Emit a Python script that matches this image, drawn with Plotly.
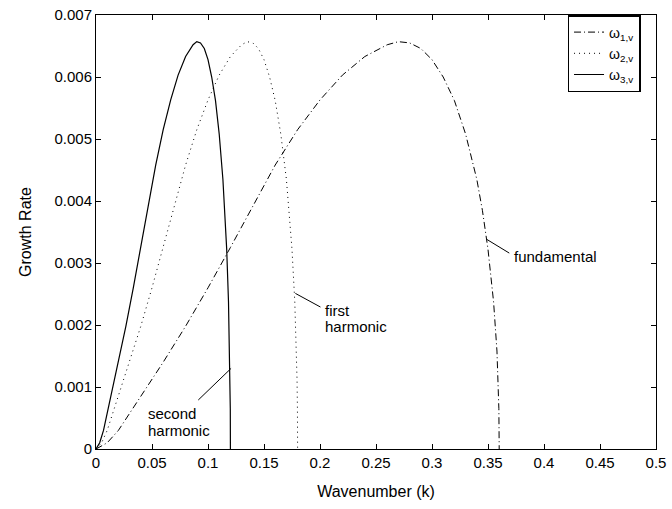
import plotly.graph_objects as go

# ---- data ----
growth_rate = [0, 0.00010, 0.00030, 0.00085, 0.00140, 0.00198, 0.00260, 0.00325, 0.00392,
               0.00458, 0.00515, 0.00563, 0.00603, 0.00633, 0.00652, 0.00657, 0.00655,
               0.00646, 0.00628, 0.00600, 0.00562, 0.00508, 0.00435, 0.00385, 0.00322,
               0.00237, 0.00158, 0.00112, 0.00065, 0.0]

k_fund = [0, 0.01, 0.02, 0.04, 0.06, 0.08, 0.10, 0.12, 0.14, 0.16, 0.18, 0.20, 0.22, 0.24,
          0.26, 0.27, 0.28, 0.29, 0.30, 0.31, 0.32, 0.33, 0.34, 0.345, 0.35, 0.355, 0.358,
          0.359, 0.3597, 0.36]
k_first = [0, 0.005, 0.01, 0.02, 0.03, 0.04, 0.05, 0.06, 0.07, 0.08, 0.09, 0.10, 0.11, 0.12,
           0.13, 0.135, 0.14, 0.145, 0.15, 0.155, 0.16, 0.165, 0.17, 0.1725, 0.175, 0.1775,
           0.179, 0.1795, 0.17985, 0.18]
k_second = [0, 0.0033, 0.0067, 0.0133, 0.02, 0.0267, 0.0333, 0.04, 0.0467, 0.0533, 0.06,
            0.0667, 0.0733, 0.08, 0.0867, 0.09, 0.0933, 0.0967, 0.10, 0.1033, 0.1067, 0.11,
            0.1133, 0.115, 0.1167, 0.1183, 0.1193, 0.1197, 0.1199, 0.12]

series_names = ["ω<sub>1,v</sub>", "ω<sub>2,v</sub>", "ω<sub>3,v</sub>"]

x_ticks = [0, 0.05, 0.1, 0.15, 0.2, 0.25, 0.3, 0.35, 0.4, 0.45, 0.5]
x_ticklabels = ["0", "0.05", "0.1", "0.15", "0.2", "0.25", "0.3", "0.35", "0.4", "0.45", "0.5"]
y_ticks = [0, 0.001, 0.002, 0.003, 0.004, 0.005, 0.006, 0.007]
y_ticklabels = ["0", "0.001", "0.002", "0.003", "0.004", "0.005", "0.006", "0.007"]

# pointer lines: (head k, head g, tail k, tail g)
pointers = [
    (0.349, 0.00338, 0.369, 0.00316),
    (0.178, 0.00251, 0.2004, 0.00229),
    (0.1206, 0.00130, 0.0913, 0.00079),
]
# label text lines: (text, k, g)
label_lines = [
    ("fundamental", 0.371, 0.00310),
    ("first", 0.203, 0.00224),
    ("harmonic", 0.203, 0.00197),
    ("second", 0.0443, 0.00057),
    ("harmonic", 0.0443, 0.00030),
]

FONT = "Liberation Sans, Arial, Helvetica, sans-serif"

fig = go.Figure()
fig.add_trace(go.Scatter(x=k_fund, y=growth_rate, mode="lines", name=series_names[0],
                         line=dict(color="black", width=1, dash="7px,3px,1px,3px")))
fig.add_trace(go.Scatter(x=k_first, y=growth_rate, mode="lines", name=series_names[1],
                         line=dict(color="black", width=1, dash="1px,4px")))
fig.add_trace(go.Scatter(x=k_second, y=growth_rate, mode="lines", name=series_names[2],
                         line=dict(color="black", width=1.2)))

for hx, hy, tx, ty in pointers:
    fig.add_shape(type="line", x0=hx, y0=hy, x1=tx, y1=ty, xref="x", yref="y",
                  line=dict(color="black", width=1))
for text, lx, ly in label_lines:
    fig.add_annotation(x=lx, y=ly, text=text, showarrow=False, xanchor="left",
                       yanchor="middle", align="left",
                       font=dict(family=FONT, size=15, color="black"))

axis_common = dict(showline=True, linecolor="black", linewidth=1, mirror="ticks",
                   ticks="inside", ticklen=5, tickcolor="black", tickwidth=1,
                   showgrid=False, zeroline=False, ticklabeloverflow="allow",
                   tickfont=dict(family=FONT, size=15, color="black"))

fig.update_xaxes(range=[0, 0.5000001], tickvals=x_ticks, ticktext=x_ticklabels,
                 title=dict(text="Wavenumber (k)", font=dict(family=FONT, size=16, color="black"),
                            standoff=15),
                 **axis_common)
fig.update_yaxes(range=[0, 0.00700001], tickvals=y_ticks, ticktext=y_ticklabels,
                 title=dict(text="Growth Rate", font=dict(family=FONT, size=16, color="black"),
                            standoff=18),
                 **axis_common)

fig.update_layout(
    width=672, height=509,
    margin=dict(l=96, r=12, t=6, b=60),
    plot_bgcolor="white", paper_bgcolor="white",
    showlegend=True,
    legend=dict(x=0.842, y=1.0, xanchor="left", yanchor="top",
                bgcolor="white", bordercolor="black", borderwidth=1.5,
                font=dict(family=FONT, size=14, color="black"),
                itemwidth=30, tracegroupgap=0),
)

fig.write_html("out.html")
